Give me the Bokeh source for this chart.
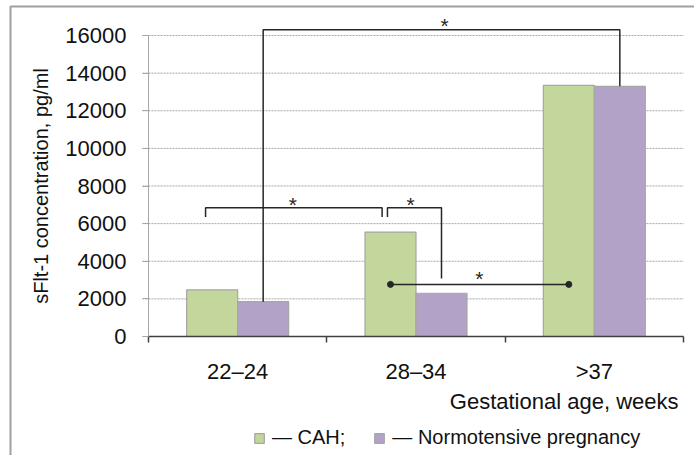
from bokeh.plotting import figure
from bokeh.models import Range1d, FixedTicker, Legend, LegendItem, Label
from bokeh.embed import file_html
from bokeh.resources import INLINE
from bokeh.core.properties import value

# ---- data ----
categories = ["22–24", "28–34", ">37"]
cah = [2480, 5550, 13350]
normotensive = [1850, 2300, 13300]
y_ticks = [0, 2000, 4000, 6000, 8000, 10000, 12000, 14000, 16000]

# significance annotations
big_bracket_top = 16300
pair_bracket_top = 6850
pair_bracket_leg = 6350
pair2_right_leg = 3080
dot_line_y = 2770
star_x = [1.66, 0.81, 1.47, 1.855]
star_y = [16540, 7035, 7035, 3105]

FONT = "Liberation Sans"
GREEN = "#c3d69b"
PURPLE = "#b3a2c7"
EDGE = "#a6a6a6"
DARK = "#262626"
TXT = "#111111"

half = 0.143
bar_w = 0.286
centers = [i + 0.5 for i in range(len(categories))]
xg = [c - half for c in centers]
xp = [c + half for c in centers]

W, H = 694, 455
px_x = 178.33          # pixels per category
px_y = 301.0 / 16000   # pixels per unit
x0, x1 = -148 / px_x, (W - 148) / px_x
y1, y0 = 336 / px_y, -(H - 336) / px_y

p = figure(width=W, height=H, x_range=Range1d(x0, x1), y_range=Range1d(y0, y1),
           output_backend="svg", toolbar_location=None,
           min_border_left=0, min_border_right=0, min_border_top=0, min_border_bottom=0)
p.outline_line_color = None
p.grid.visible = False

# outer frame lines (top and left)
p.line(x=[x0 + 10 / px_x, x0 + 10 / px_x, x1], y=[y0, y1 - 6 / px_y, y1 - 6 / px_y],
       line_color="#a0a0a0", line_width=2)

# dotted gridlines
p.segment(x0=[-6 / px_x] * len(y_ticks), x1=[3] * len(y_ticks), y0=y_ticks, y1=y_ticks,
          line_color=EDGE, line_dash="2 1", line_width=1)

r1 = p.vbar(x=xg, top=cah, width=bar_w, fill_color=GREEN, line_color=EDGE, line_width=1.2)
r2 = p.vbar(x=xp, top=normotensive, width=bar_w, fill_color=PURPLE, line_color=EDGE, line_width=1.2)

# axes
xa = p.xaxis[0]
xa.fixed_location = 0
xa.bounds = (0, 3)
xa.ticker = FixedTicker(ticks=centers, minor_ticks=[0, 1, 2, 3])
xa.major_label_overrides = {c: lab for c, lab in zip(centers, categories)}
xa.major_tick_line_color = None
xa.major_tick_out = 0
xa.major_tick_in = 0
xa.minor_tick_line_color = "#404040"
xa.minor_tick_in = 0
xa.minor_tick_out = 6
xa.minor_tick_line_width = 1.5
xa.axis_line_color = "#404040"
xa.axis_line_width = 1.5
xa.major_label_standoff = 16
xa.major_label_text_font = FONT
xa.major_label_text_font_size = "22px"
xa.major_label_text_color = TXT

ya = p.yaxis[0]
ya.fixed_location = 0
ya.ticker = FixedTicker(ticks=y_ticks)
ya.bounds = (0, 16000)
ya.axis_line_color = EDGE
ya.major_tick_line_color = EDGE
ya.major_tick_out = 6
ya.major_tick_in = 0
ya.minor_tick_line_color = None
ya.major_label_standoff = 16
ya.major_label_text_font = FONT
ya.major_label_text_font_size = "22px"
ya.major_label_text_color = TXT
ya.axis_label = "sFlt-1 concentration, pg/ml"
ya.axis_label_text_font = FONT
ya.axis_label_text_font_size = "20px"
ya.axis_label_text_font_style = "normal"
ya.axis_label_text_color = TXT
ya.axis_label_standoff = 10

# significance brackets
p.line(x=[xp[0], xp[0], xp[2], xp[2]],
       y=[normotensive[0], big_bracket_top, big_bracket_top, normotensive[2]],
       line_color=DARK, line_width=1.5)
p.line(x=[0.32, 0.32, 1.31, 1.31],
       y=[pair_bracket_leg, pair_bracket_top, pair_bracket_top, pair_bracket_leg],
       line_color=DARK, line_width=1.5)
p.line(x=[1.34, 1.34, xp[1], xp[1]],
       y=[pair_bracket_leg, pair_bracket_top, pair_bracket_top, pair2_right_leg],
       line_color=DARK, line_width=1.5)
p.line(x=[xg[1], xg[2]], y=[dot_line_y, dot_line_y], line_color=DARK, line_width=1.5)
p.scatter(x=[xg[1], xg[2]], y=[dot_line_y, dot_line_y], size=6, color=DARK)
p.text(x=star_x, y=star_y, text=["*"] * 4, text_align="center", text_baseline="alphabetic",
       text_font=value(FONT), text_font_size="21px", text_color=DARK)

# x axis title (right aligned)
p.add_layout(Label(x=2.972, y=-3451, text="Gestational age, weeks", text_align="right",
                   text_baseline="middle", text_font=FONT, text_font_size="22px",
                   text_color=TXT))

legend = Legend(items=[LegendItem(label="— CAH;", renderers=[r1]),
                       LegendItem(label="— Normotensive pregnancy", renderers=[r2])],
                location=(253, 6), orientation="horizontal",
                glyph_width=12, glyph_height=12, label_standoff=7, spacing=28,
                padding=0, margin=0, border_line_color=None, background_fill_alpha=0,
                label_text_font=FONT, label_text_font_size="20px", label_text_color=TXT)
p.add_layout(legend)

open("out.html", "w").write(file_html(p, INLINE))
